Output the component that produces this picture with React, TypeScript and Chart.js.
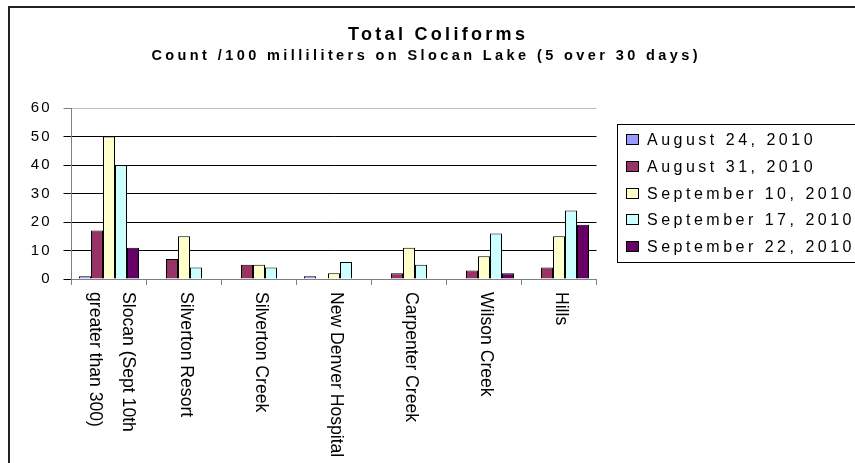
import React, { useEffect, useRef } from "react";
import { Chart, registerables } from "chart.js";

Chart.register(...registerables);

// ---- data ----
const categories: (string | string[])[] = [
  ["Slocan (Sept 10th", "greater than 300)"],
  "Silverton Resort",
  "Silverton Creek",
  "New Denver Hospital",
  "Carpenter Creek",
  "Wilson Creek",
  "Hills",
];
const seriesNames = [
  "August 24, 2010",
  "August 31, 2010",
  "September 10, 2010",
  "September 17, 2010",
  "September 22, 2010",
];
const aug24 = [1, 0, 0, 1, 0, 0, 0];
const aug31 = [17, 7, 5, 0, 2, 3, 4];
const sep10 = [50, 15, 5, 2, 11, 8, 15];
const sep17 = [40, 4, 4, 6, 5, 16, 24];
const sep22 = [11, 0, 0, 0, 0, 2, 19];
const yTicks = [0, 10, 20, 30, 40, 50, 60];
const seriesColors = ["#9999FF", "#993366", "#FFFFCC", "#CCFFFF", "#660066"];
const titleText = "Total Coliforms";
const subtitleText = "Count /100 milliliters on Slocan Lake (5 over 30 days)";

const FONT = '"Liberation Sans", Arial, sans-serif';

function drawSpaced(
  ctx: CanvasRenderingContext2D,
  text: string,
  x: number,
  y: number,
  ls: number,
  align: "left" | "center"
) {
  const c: any = ctx;
  c.letterSpacing = "0px";
  const w0 = ctx.measureText(text).width;
  const visible = w0 + (text.length - 1) * ls;
  const left = align === "center" ? x - visible / 2 : x;
  c.letterSpacing = ls + "px";
  ctx.textAlign = "left";
  ctx.fillText(text, left, y);
  c.letterSpacing = "0px";
}

const decorPlugin = {
  id: "decor",
  beforeDraw(chart: any) {
    (chart.ctx as any).letterSpacing = "2px";
  },
  beforeDatasetsDraw(chart: any) {
    (chart.ctx as any).letterSpacing = "0px";
  },
  afterDraw(chart: any) {
    const ctx: CanvasRenderingContext2D = chart.ctx;
    ctx.save();
    (ctx as any).letterSpacing = "0px";

    // outer frame
    ctx.strokeStyle = "#222";
    ctx.lineWidth = 2;
    ctx.beginPath();
    ctx.moveTo(9, 480);
    ctx.lineTo(9, 7);
    ctx.lineTo(870, 7);
    ctx.stroke();

    // title & subtitle
    ctx.fillStyle = "#000";
    ctx.textBaseline = "alphabetic";
    ctx.font = "bold 18px " + FONT;
    drawSpaced(ctx, titleText, 436.5, 40, 3.3, "center");
    ctx.font = "bold 14.5px " + FONT;
    drawSpaced(ctx, subtitleText, 424.5, 60, 3.4, "center");

    // legend
    ctx.strokeStyle = "#000";
    ctx.lineWidth = 1;
    ctx.strokeRect(617.5, 124.5, 260, 138);
    ctx.font = "16px " + FONT;
    chart.data.datasets.forEach((ds: any, i: number) => {
      const cy = 139.3 + i * 26.85;
      const top = Math.round(cy - 5.5);
      ctx.fillStyle = ds.backgroundColor;
      ctx.fillRect(626, top, 13, 11);
      ctx.strokeStyle = "#000";
      ctx.strokeRect(626.5, top + 0.5, 12, 10);
      ctx.fillStyle = "#000";
      drawSpaced(ctx, ds.label, 647, cy + 5.6, 3.5, "left");
    });

    // category labels (rotated clockwise)
    const xs = chart.scales.x;
    ctx.font = "17.6px " + FONT;
    ctx.fillStyle = "#000";
    ctx.textAlign = "left";
    ctx.textBaseline = "alphabetic";
    const lineH = 33;
    chart.data.labels.forEach((lab: any, i: number) => {
      const lines: string[] = Array.isArray(lab) ? lab : [lab];
      const x = xs.getPixelForValue(i);
      lines.forEach((ln, j) => {
        const off = 3 + (j - (lines.length - 1) / 2) * lineH;
        ctx.save();
        ctx.translate(x, 292);
        ctx.rotate(Math.PI / 2);
        ctx.fillText(ln, 0, off);
        ctx.restore();
      });
    });
    ctx.restore();
  },
};

export default function App() {
  const ref = useRef<HTMLCanvasElement | null>(null);
  useEffect(() => {
    if (!ref.current) return;
    const series = [aug24, aug31, sep10, sep17, sep22];
    const chart = new Chart(ref.current, {
      type: "bar",
      data: {
        labels: categories as any,
        datasets: series.map((d, i) => ({
          label: seriesNames[i],
          data: d,
          backgroundColor: seriesColors[i],
          borderColor: "#000",
          borderWidth: 1,
          inflateAmount: 0,
          categoryPercentage: 0.8,
          barPercentage: 1,
        })),
      },
      options: {
        animation: false,
        responsive: false,
        devicePixelRatio: 1,
        layout: { padding: { top: 108, right: 258.5, left: 0, bottom: 0 } },
        plugins: {
          legend: { display: false },
          title: { display: false },
          tooltip: { enabled: false },
        },
        scales: {
          x: {
            offset: true,
            afterFit: (s: any) => {
              s.height = 184;
            },
            ticks: { display: false },
            grid: {
              display: true,
              offset: true,
              drawOnChartArea: false,
              drawTicks: true,
              tickLength: 6,
              color: "#808080",
            },
            border: { display: true, color: "#808080", width: 1 },
          },
          y: {
            min: yTicks[0],
            max: yTicks[yTicks.length - 1],
            afterFit: (s: any) => {
              s.width = 71.5;
            },
            ticks: {
              stepSize: yTicks[1] - yTicks[0],
              color: "#000",
              font: { family: FONT, size: 15 },
              padding: 12,
            },
            grid: {
              drawTicks: true,
              tickLength: 8,
              color: (c: any) =>
                c.tick && c.tick.value === yTicks[yTicks.length - 1] ? "#c0c0c0" : "#000",
              tickColor: (c: any) =>
                c.tick && c.tick.value === yTicks[yTicks.length - 1] ? "#808080" : "#000",
            },
            border: { display: true, color: "#808080", width: 1 },
          },
        },
      },
      plugins: [decorPlugin],
    });
    return () => chart.destroy();
  }, []);
  return (
    <div style={{ position: "fixed", left: 0, top: 0, width: 855, height: 463, background: "#fff" }}>
      <canvas ref={ref} width={855} height={463} style={{ display: "block" }} />
    </div>
  );
}
